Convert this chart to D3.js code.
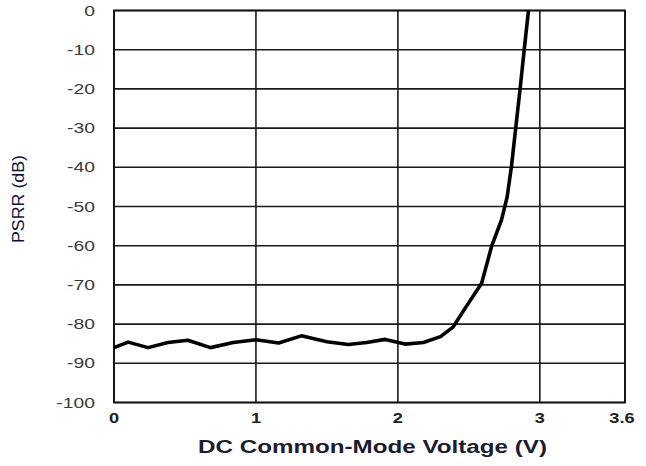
<!DOCTYPE html>
<html>
<head>
<meta charset="utf-8">
<script src="https://cdn.jsdelivr.net/npm/d3@7"></script>
<style>
  body { margin: 0; background: #fff; }
  svg { display: block; }
</style>
</head>
<body>
<div id="chart-area"></div>
<script>
// values
var voltage = [0, 0.10, 0.24, 0.38, 0.52, 0.68, 0.84, 1.0, 1.16, 1.32, 1.50, 1.65, 1.78, 1.91,
	2.05, 2.18, 2.30, 2.39, 2.48, 2.59, 2.66, 2.73, 2.77, 2.80, 2.83, 2.86, 2.89, 2.92];
var psrr = [-86.0, -84.6, -86.0, -84.7, -84.1, -86.0, -84.7, -84.0, -84.8, -83.0, -84.5, -85.2, -84.7, -83.9,
	-85.1, -84.7, -83.2, -80.7, -75.6, -69.6, -60.2, -53.4, -47.5, -39.8, -30.0, -20.3, -10.0, 0];

var xTicks = [0, 1, 2, 3, 3.6];
var yTicks = [0, -10, -20, -30, -40, -50, -60, -70, -80, -90, -100];

var width_svg = 646, height_svg = 466;
var left = 114, top_ = 10.5, plot_w = 511, plot_h = 392;

var svg = d3.select("#chart-area").append("svg")
	.attr("width", width_svg)
	.attr("height", height_svg);

var x = d3.scaleLinear().domain([0, 3.6]).range([left, left + plot_w]);
var y = d3.scaleLinear().domain([-100, 0]).range([top_ + plot_h, top_]);

// horizontal grid
svg.selectAll("line.hgrid")
	.data(yTicks)
	.enter()
	.append("line")
		.attr("class", "hgrid")
		.attr("x1", left)
		.attr("x2", left + plot_w)
		.attr("y1", function(d){ return y(d); })
		.attr("y2", function(d){ return y(d); })
		.style("stroke", "#1a1a1a")
		.style("stroke-width", 1.6);

// vertical grid
svg.selectAll("line.vgrid")
	.data(xTicks)
	.enter()
	.append("line")
		.attr("class", "vgrid")
		.attr("x1", function(d){ return x(d); })
		.attr("x2", function(d){ return x(d); })
		.attr("y1", top_)
		.attr("y2", top_ + plot_h)
		.style("stroke", "#1a1a1a")
		.style("stroke-width", 1.6);

svg.append("rect")
	.attr("x", left)
	.attr("y", top_)
	.attr("width", plot_w)
	.attr("height", plot_h)
	.style("fill", "none")
	.style("stroke", "#111")
	.style("stroke-width", 1.8);

// y tick labels
svg.selectAll("text.ylab")
	.data(yTicks)
	.enter()
	.append("text")
		.attr("class", "ylab")
		.attr("transform", function(d){ return "translate(95," + (y(d) + 5) + ") scale(1.38,1)"; })
		.attr("text-anchor", "end")
		.style("font-family", "Liberation Sans, Arial, sans-serif")
		.style("font-size", "14px")
		.style("fill", "#3a3a3a")
		.text(function(d){ return d; });

// x tick labels
svg.selectAll("text.xlab")
	.data(xTicks)
	.enter()
	.append("text")
		.attr("class", "xlab")
		.attr("transform", function(d){ return "translate(" + (d == 3.6 ? x(d) - 3 : x(d)) + ",423) scale(1.3,1)"; })
		.attr("text-anchor", "middle")
		.style("font-family", "Liberation Sans, Arial, sans-serif")
		.style("font-weight", "bold")
		.style("font-size", "14px")
		.style("fill", "#222")
		.text(function(d){ return d; });

// curve
var line = d3.line()
	.x(function(d){ return x(d[0]); })
	.y(function(d){ return y(d[1]); });

svg.append("path")
	.datum(d3.zip(voltage, psrr))
	.attr("d", line)
	.style("fill", "none")
	.style("stroke", "#000")
	.style("stroke-width", 3.6)
	.style("stroke-linejoin", "round");

// axis titles
svg.append("text")
	.attr("x", 372.5)
	.attr("y", 453)
	.attr("text-anchor", "middle")
	.attr("textLength", 349)
	.attr("lengthAdjust", "spacingAndGlyphs")
	.style("font-family", "Liberation Sans, Arial, sans-serif")
	.style("font-weight", "bold")
	.style("font-size", "18px")
	.style("fill", "#1c1c30")
	.text("DC Common-Mode Voltage (V)");

svg.append("text")
	.attr("transform", "translate(24,199) rotate(-90)")
	.attr("text-anchor", "middle")
	.attr("textLength", 88)
	.attr("lengthAdjust", "spacingAndGlyphs")
	.style("font-family", "Liberation Sans Narrow, Arial Narrow, Liberation Sans, sans-serif")
	.style("font-size", "17px")
	.style("fill", "#10103a")
	.text("PSRR (dB)");
</script>
</body>
</html>
